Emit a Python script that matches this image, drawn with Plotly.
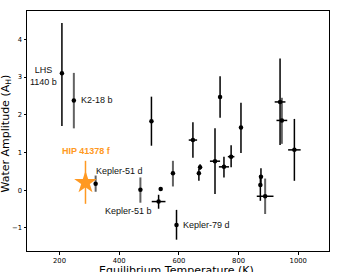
import plotly.graph_objects as go

# Black-bar planets
black_x = [208, 508, 647, 738, 721, 751, 775, 671, 667, 808, 939, 987, 875, 873, 539, 532, 592]
black_y = [3.10, 1.83, 1.33, 2.47, 0.77, 0.62, 0.89, 0.61, 0.45, 1.66, 2.34, 1.07, 0.36, 0.14, 0.03, -0.30, -0.92]
black_yerr_plus = [1.33, 0.65, 0.47, 0.55, 0.87, 0.27, 0.30, 0.08, 0.11, 0.66, 1.15, 0.82, 0.22, 0.22, 0, 0.18, 0.40]
black_yerr_minus = [1.40, 0.65, 0.47, 0.55, 0.87, 0.28, 0.28, 0.07, 0.20, 0.67, 1.14, 0.82, 0.22, 0.42, 0, 0.19, 0.39]
black_xerr = [0, 0, 14, 0, 17, 17, 11, 6, 4, 0, 18, 21, 5, 5, 0, 23, 0]

# Gray-bar planets
gray_x = [248, 321, 471, 580, 945, 889]
gray_y = [2.38, 0.17, 0.01, 0.45, 1.85, -0.16]
gray_yerr_plus = [0.73, 0.22, 0.33, 0.33, 0.60, 0.47]
gray_yerr_minus = [0.74, 0.21, 0.34, 0.35, 0.62, 0.47]
gray_xerr = [0, 0, 0, 0, 18, 28]

# Highlighted planet
hip_x = [287]
hip_y = [0.20]
hip_yerr_plus = [0.58]
hip_yerr_minus = [0.56]

# Labels
label_text = ["LHS<br>1140 b", "K2-18 b", "Kepler-51 d", "Kepler-51 b", "Kepler-79 d"]
label_x = [208, 248, 321, 532, 592]
label_y = [3.10, 2.38, 0.17, -0.30, -0.92]
hip_label = "HIP 41378 f"

x_ticks = [200, 400, 600, 800, 1000]
y_ticks = [-1, 0, 1, 2, 3, 4]

ORANGE = "#ff9922"
GRAY = "#626262"
ANN_FONT = "Liberation Sans, Arial, sans-serif"
AX_FONT = "DejaVu Sans, sans-serif"

fig = go.Figure()

fig.add_trace(go.Scatter(
    x=gray_x, y=gray_y, mode="markers",
    marker=dict(color="black", size=4.5),
    error_y=dict(type="data", symmetric=False, array=gray_yerr_plus, arrayminus=gray_yerr_minus,
                 color=GRAY, thickness=2, width=0),
    error_x=dict(type="data", array=gray_xerr, color="black", thickness=1.5, width=0),
    showlegend=False))

fig.add_trace(go.Scatter(
    x=black_x, y=black_y, mode="markers",
    marker=dict(color="black", size=4.5),
    error_y=dict(type="data", symmetric=False, array=black_yerr_plus, arrayminus=black_yerr_minus,
                 color="black", thickness=1.5, width=0),
    error_x=dict(type="data", array=black_xerr, color="black", thickness=1.5, width=0),
    showlegend=False))

fig.add_trace(go.Scatter(
    x=hip_x, y=hip_y, mode="markers",
    marker=dict(color=ORANGE, size=17, symbol="star", line=dict(width=0)),
    error_y=dict(type="data", symmetric=False, array=hip_yerr_plus, arrayminus=hip_yerr_minus,
                 color=ORANGE, thickness=1.5, width=0),
    showlegend=False))

shifts = [
    dict(xanchor="right", xshift=-3, yshift=-3, align="center"),
    dict(xanchor="left", xshift=5, yshift=0, align="left"),
    dict(xanchor="left", xshift=-2, yshift=13, align="left"),
    dict(xanchor="right", xshift=-5, yshift=-9.5, align="right"),
    dict(xanchor="left", xshift=4, yshift=-0.5, align="left"),
]
for t, lx, ly, s in zip(label_text, label_x, label_y, shifts):
    fig.add_annotation(x=lx, y=ly, text=t, showarrow=False, yanchor="middle",
                       font=dict(family=ANN_FONT, size=9, color="#111111"), **s)

fig.add_annotation(x=hip_x[0], y=hip_y[0], text="<b>" + hip_label + "</b>", showarrow=False,
                   xanchor="center", yanchor="middle", yshift=32, xshift=1,
                   font=dict(family=ANN_FONT, size=9, color=ORANGE))

fig.add_annotation(xref="paper", yref="paper", x=0, y=0.5, xshift=-21.5, yshift=-3,
                   text="Water Amplitude (A<sub>H</sub>)", textangle=-90, showarrow=False,
                   xanchor="center", yanchor="middle",
                   font=dict(family=AX_FONT, size=11, color="black"))
fig.add_annotation(xref="paper", yref="paper", x=0.5, y=0, xshift=-2, yshift=-19,
                   text="Equilibrium Temperature (K)", showarrow=False,
                   xanchor="center", yanchor="middle",
                   font=dict(family=AX_FONT, size=11, color="black"))

axis_common = dict(showgrid=False, zeroline=False, showline=True, linecolor="black", linewidth=1,
                   mirror=True, ticks="outside", ticklen=2.5, tickwidth=1, tickcolor="black",
                   automargin=False,
                   tickfont=dict(family=AX_FONT, size=6.8, color="black"))

fig.update_xaxes(range=[91, 1103], tickvals=x_ticks, ticktext=[str(v) for v in x_ticks], **axis_common)
fig.update_yaxes(range=[-1.61, 4.75], tickvals=y_ticks,
                 ticktext=[("\u2212" + str(-v)) if v < 0 else str(v) for v in y_ticks], **axis_common)

fig.update_layout(width=355, height=272, margin=dict(l=27, r=26, t=11, b=21, pad=0, autoexpand=False),
                  plot_bgcolor="white", paper_bgcolor="white")

fig.write_html("out.html", config={"displayModeBar": False},
               post_script="document.body.style.margin='0';document.body.style.overflow='hidden';")
